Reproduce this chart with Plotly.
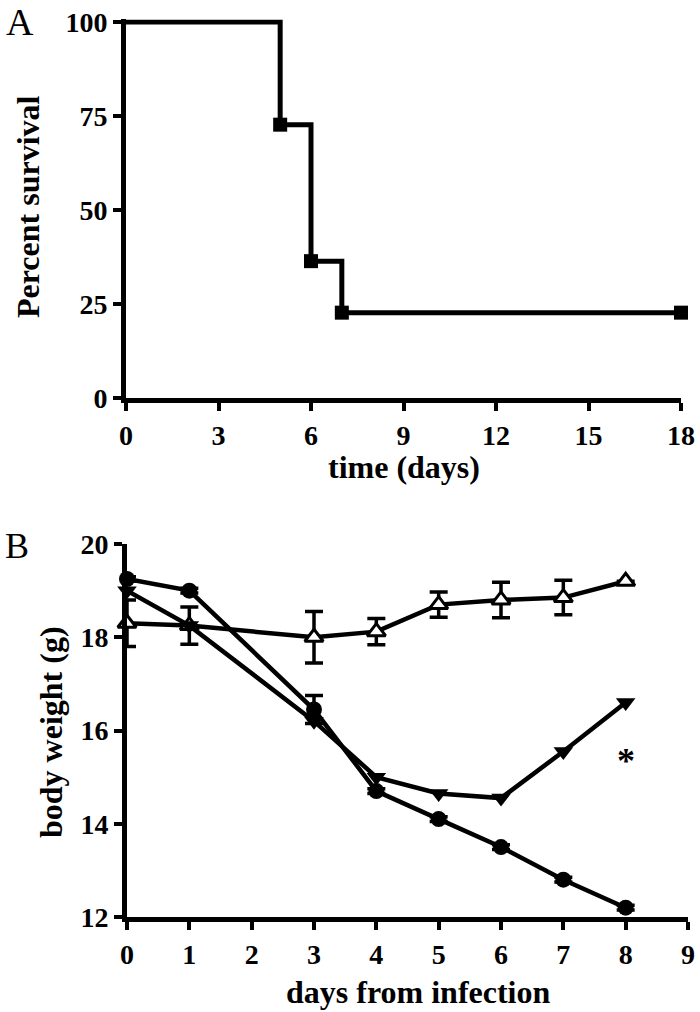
import plotly.graph_objects as go

# Panel A: survival
surv_days = [0, 5, 6, 7, 18]
surv_pct = [100, 72.7, 36.4, 22.7, 22.7]
surv_marker_days = [5, 6, 7, 18]
surv_marker_pct = [72.7, 36.4, 22.7, 22.7]

# Panel B: body weight
days = [0, 1, 3, 4, 5, 6, 7, 8]
circle_w = [19.25, 19.0, 16.45, 14.7, 14.1, 13.5, 12.8, 12.2]
circle_err = [0.05, 0.05, 0.3, 0.05, 0.05, 0.05, 0.05, 0.05]
tridown_w = [19.0, 18.25, 16.2, 15.0, 14.65, 14.55, 15.55, 16.6]
triup_w = [18.3, 18.25, 18.0, 18.12, 18.7, 18.8, 18.85, 19.2]
triup_err = [0.5, 0.4, 0.55, 0.28, 0.27, 0.38, 0.37, 0.0]

FONT = "Liberation Serif"
W, H = 700, 1012


def px(x):
    return x / W


def py(y):
    return 1 - y / H


fig = go.Figure()

fig.add_trace(go.Scatter(x=surv_days, y=surv_pct, mode="lines", line=dict(color="black", width=5, shape="hv"),
                         xaxis="x", yaxis="y", cliponaxis=False, showlegend=False))
fig.add_trace(go.Scatter(x=surv_marker_days, y=surv_marker_pct, mode="markers",
                         marker=dict(symbol="square", size=14, color="black"),
                         xaxis="x", yaxis="y", cliponaxis=False, showlegend=False))

fig.add_trace(go.Scatter(x=days, y=triup_w, mode="lines+markers",
                         line=dict(color="black", width=4.5),
                         marker=dict(symbol="triangle-up", size=16, color="white", line=dict(color="black", width=3)),
                         error_y=dict(type="data", array=triup_err, color="black", thickness=3.5, width=9),
                         xaxis="x2", yaxis="y2", cliponaxis=False, showlegend=False))
fig.add_trace(go.Scatter(x=days, y=tridown_w, mode="lines+markers",
                         line=dict(color="black", width=4.5),
                         marker=dict(symbol="triangle-down", size=17, color="black"),
                         xaxis="x2", yaxis="y2", cliponaxis=False, showlegend=False))
fig.add_trace(go.Scatter(x=days, y=circle_w, mode="lines+markers",
                         line=dict(color="black", width=4.5),
                         marker=dict(symbol="circle", size=16, color="black"),
                         error_y=dict(type="data", array=circle_err, color="black", thickness=3.5, width=9),
                         xaxis="x2", yaxis="y2", cliponaxis=False, showlegend=False))

axis_common = dict(showline=True, linecolor="black", linewidth=5, ticks="outside", ticklen=8, tickwidth=4,
                   tickcolor="black", showgrid=False, zeroline=False, automargin=False,
                   ticklabeloverflow="allow",
                   tickfont=dict(family=FONT, size=28, color="black", weight="bold"))
tfont = dict(family=FONT, size=32, color="black", weight="bold")


def ann(text, x, y, font=None, angle=0):
    return dict(text=text, x=px(x), y=py(y), xref="paper", yref="paper", xanchor="center", yanchor="middle",
                showarrow=False, textangle=angle, font=font)


fig.update_layout(
    template="none",
    width=W, height=H, margin=dict(l=0, r=0, t=0, b=0),
    paper_bgcolor="white", plot_bgcolor="white",
    xaxis=dict(domain=[px(126), px(681)], range=[0, 18], tickvals=[0, 3, 6, 9, 12, 15, 18], anchor="y",
               **axis_common),
    yaxis=dict(domain=[py(398), py(19.4)], range=[0, 100.7], tickvals=[0, 25, 50, 75, 100], anchor="x",
               **axis_common),
    xaxis2=dict(domain=[px(127), px(688)], range=[0, 9], tickvals=list(range(10)), anchor="y2", **axis_common),
    yaxis2=dict(domain=[py(917), py(544)], range=[12, 20], tickvals=[12, 14, 16, 18, 20], anchor="x2",
                **axis_common),
    annotations=[
        ann("A", 20, 22, font=dict(family=FONT, size=38, color="black")),
        ann("B", 17, 546, font=dict(family=FONT, size=36, color="black")),
        ann("Percent survival", 28, 207, font=tfont, angle=-90),
        ann("time (days)", 404, 467, font=tfont),
        ann("body weight (g)", 51, 732, font=tfont, angle=-90),
        ann("days from infection", 418, 992, font=tfont),
        dict(text="*", x=8, y=15.35, xref="x2", yref="y2", showarrow=False,
             font=dict(family=FONT, size=36, color="black", weight="bold")),
    ],
)

fig.write_html("out.html", config={"displayModeBar": False},
               post_script="document.body.style.margin='0';document.body.style.overflow='hidden';")
